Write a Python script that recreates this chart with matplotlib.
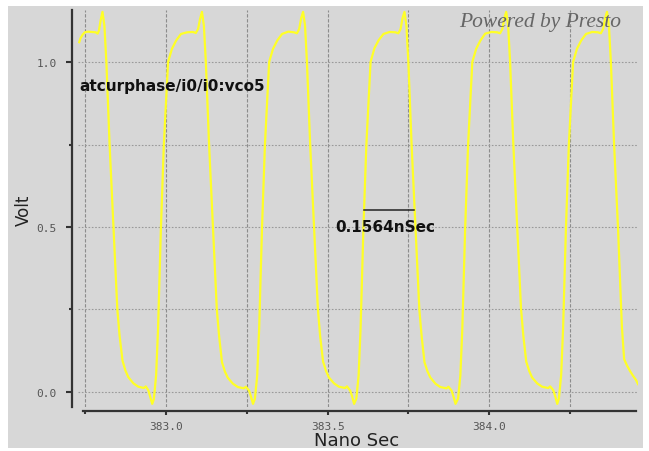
import matplotlib
matplotlib.use("Agg")
import matplotlib.pyplot as plt
from matplotlib.patches import Rectangle
from matplotlib.ticker import FixedLocator, NullFormatter

# waveform samples (time in ns, level in V)
t_ns = [
    382.731, 382.735, 382.741, 382.748, 382.758, 382.770, 382.782, 382.788, 382.792, 382.797, 382.803,
    382.809, 382.815, 382.825, 382.837, 382.849, 382.856, 382.865, 382.874, 382.883, 382.899, 382.914,
    382.931, 382.937, 382.945, 382.951, 382.957,
    382.962, 382.969, 382.975, 382.984, 382.993, 383.006, 383.018, 383.031, 383.046, 383.065, 383.083,
    383.092, 383.099, 383.105, 383.111,
    383.117, 383.123, 383.133, 383.145, 383.157, 383.164, 383.173, 383.182, 383.191, 383.207, 383.222,
    383.241, 383.247, 383.257, 383.263, 383.269,
    383.275, 383.282, 383.288, 383.297, 383.306, 383.319, 383.331, 383.344, 383.359, 383.378, 383.396,
    383.405, 383.412, 383.418, 383.424,
    383.430, 383.436, 383.446, 383.458, 383.470, 383.477, 383.486, 383.495, 383.504, 383.520, 383.535,
    383.554, 383.560, 383.570, 383.576, 383.582,
    383.589, 383.596, 383.602, 383.611, 383.620, 383.633, 383.645, 383.658, 383.673, 383.692, 383.710,
    383.719, 383.726, 383.732, 383.738,
    383.744, 383.750, 383.760, 383.772, 383.784, 383.791, 383.800, 383.809, 383.818, 383.834, 383.849,
    383.868, 383.874, 383.884, 383.890, 383.896,
    383.904, 383.911, 383.917, 383.926, 383.935, 383.948, 383.960, 383.973, 383.988, 384.007, 384.025,
    384.034, 384.041, 384.047, 384.053,
    384.059, 384.065, 384.075, 384.087, 384.099, 384.106, 384.115, 384.124, 384.133, 384.149, 384.164,
    384.183, 384.189, 384.199, 384.205, 384.211,
    384.216, 384.223, 384.229, 384.238, 384.247, 384.260, 384.272, 384.285, 384.300, 384.319, 384.337,
    384.346, 384.353, 384.359, 384.365,
    384.371, 384.377, 384.387, 384.399, 384.411, 384.418, 384.427, 384.436, 384.445, 384.455, 384.461,
]
volt = [
    1.060, 1.072, 1.082, 1.090, 1.092, 1.091, 1.090, 1.086, 1.095, 1.125, 1.152,
    1.110, 1.000, 0.750, 0.500, 0.250, 0.170, 0.095, 0.065, 0.045, 0.026, 0.016,
    0.012, 0.017, 0.005, -0.015, -0.036,
    -0.022, 0.050, 0.190, 0.500, 0.750, 1.000, 1.040, 1.065, 1.085, 1.090, 1.091,
    1.088, 1.100, 1.130, 1.152,
    1.110, 1.000, 0.750, 0.500, 0.250, 0.170, 0.090, 0.062, 0.043, 0.025, 0.015,
    0.011, 0.016, 0.004, -0.015, -0.036,
    -0.020, 0.050, 0.190, 0.500, 0.750, 1.000, 1.040, 1.065, 1.085, 1.092, 1.090,
    1.087, 1.100, 1.132, 1.152,
    1.112, 1.000, 0.750, 0.500, 0.250, 0.168, 0.092, 0.064, 0.044, 0.026, 0.016,
    0.012, 0.017, 0.004, -0.014, -0.036,
    -0.020, 0.050, 0.190, 0.500, 0.750, 1.000, 1.042, 1.066, 1.085, 1.091, 1.090,
    1.087, 1.100, 1.133, 1.152,
    1.110, 1.000, 0.750, 0.500, 0.250, 0.170, 0.090, 0.063, 0.044, 0.025, 0.015,
    0.011, 0.016, 0.004, -0.015, -0.036,
    -0.020, 0.050, 0.190, 0.500, 0.750, 1.000, 1.040, 1.065, 1.086, 1.091, 1.090,
    1.087, 1.100, 1.132, 1.152,
    1.110, 1.000, 0.750, 0.500, 0.250, 0.170, 0.092, 0.064, 0.044, 0.026, 0.016,
    0.012, 0.017, 0.005, -0.014, -0.036,
    -0.020, 0.050, 0.190, 0.500, 0.750, 1.000, 1.040, 1.065, 1.085, 1.091, 1.090,
    1.087, 1.100, 1.132, 1.152,
    1.110, 1.000, 0.750, 0.500, 0.200, 0.100, 0.080, 0.064, 0.050, 0.036, 0.024,
]

x_major = [383.0, 383.5, 384.0]
x_minor = [382.75, 383.25, 383.75, 384.25]
y_major = [0.0, 0.5, 1.0]
y_minor = [0.25, 0.75]

signal_name = "atcurphase/i0/i0:vco5"
meas_start, meas_end, meas_level = 383.613, 383.768, 0.552
meas_label = "0.1564nSec"

bg = "#d7d7d7"
fig = plt.figure(figsize=(6.49, 4.52), dpi=100, facecolor="white")
fig.patches.append(Rectangle((8 / 649, 1 - 449 / 452), 635 / 649, 442 / 452,
                             transform=fig.transFigure, facecolor=bg, edgecolor="none", zorder=-5))

ax = fig.add_axes([78 / 649, 1 - 408 / 452, 560 / 649, 397 / 452])
ax.set_facecolor("none")
ax.set_xlim(382.7272, 384.461)
ax.set_ylim(-0.0455, 1.1576)

ax.plot(t_ns, volt, color="#ffff26", lw=1.6, zorder=3)

ax.xaxis.set_major_locator(FixedLocator(x_major))
ax.xaxis.set_minor_locator(FixedLocator(x_minor))
ax.yaxis.set_major_locator(FixedLocator(y_major))
ax.yaxis.set_minor_locator(FixedLocator(y_minor))
ax.xaxis.set_minor_formatter(NullFormatter())
ax.yaxis.set_minor_formatter(NullFormatter())
ax.set_xticklabels(["%.1f" % v for v in x_major])
ax.set_yticklabels(["%.1f" % v for v in y_major])

ax.tick_params(axis="both", which="major", labelsize=8, labelcolor="#555555",
               labelfontfamily="DejaVu Sans Mono")
ax.tick_params(axis="x", which="major", length=3, width=1.5, color="#333333", pad=4)
ax.tick_params(axis="x", which="minor", length=2, width=1.5, color="#333333")
ax.tick_params(axis="y", which="major", length=4, width=1.5, color="#333333", pad=7)
ax.tick_params(axis="y", which="minor", length=2.5, width=1.5, color="#333333")

ax.grid(True, axis="x", which="both", color="#8c8c8c", lw=0.8, ls=(0, (3, 1.5)))
ax.grid(True, axis="y", which="both", color="#9a9a9a", lw=0.8, ls=(0, (1.5, 1.5)))
ax.set_axisbelow(True)

for side in ["top", "right"]:
    ax.spines[side].set_visible(False)
ax.spines["left"].set_position(("outward", 4.5))
ax.spines["bottom"].set_position(("outward", 3))
ax.spines["left"].set_linewidth(1.6)
ax.spines["bottom"].set_linewidth(1.6)
ax.spines["left"].set_color("#333333")
ax.spines["bottom"].set_color("#333333")
ax.spines["bottom"].set_bounds(382.743, 384.455)

ax.set_xlabel("Nano Sec", fontsize=13, color="#222222", va="center")
ax.set_ylabel("Volt", fontsize=12, color="#222222", va="center")
ax.xaxis.set_label_coords(0.498, -0.083)
ax.yaxis.set_label_coords(-0.096, 0.499)

ax.plot([meas_start, meas_end], [meas_level, meas_level], color="#222222", lw=1.1, zorder=4)
ax.text(383.524, 0.503, meas_label, fontsize=11, fontweight="bold", color="#111111",
        ha="left", va="center", zorder=5)
ax.text(382.730, 0.930, signal_name, fontsize=11, fontweight="bold", color="#111111",
        ha="left", va="center", zorder=5)

fig.text(540 / 649, 1 - 22 / 452, "Powered by Presto", family="Liberation Serif",
         style="italic", fontsize=15.5, color="#666666", ha="center", va="center")

fig.savefig("out.png", dpi=100, facecolor="white")
